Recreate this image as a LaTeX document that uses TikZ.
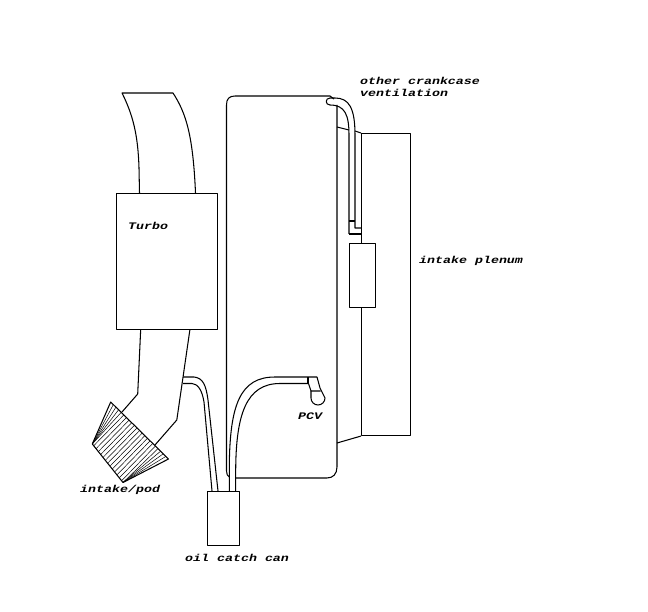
\documentclass[tikz,border=0pt]{standalone}
\usepackage{fontspec}
\newfontfamily\labelfont[FakeStretch=1.33]{Liberation Mono}
\usetikzlibrary{calc}
\tikzset{
  ln/.style={draw=black,line width=1.05pt},
  boxn/.style={ln,fill=white,rectangle,inner sep=0pt,anchor=north west},
  lbl/.style={anchor=west,inner sep=0pt,font=\labelfont\bfseries\itshape\fontsize{10}{11}\selectfont},
  pleat/.style={draw=black,line width=0.5pt}
}
\begin{document}
\begin{tikzpicture}[x=1pt,y=-1pt,line join=round]
\useasboundingbox[fill=white] (0,0) rectangle (648,612);
% intake duct above turbo
\draw[ln] (139.5,193) -- (139,168) .. controls (138,135) and (133,115) .. (122,93) -- (173,93)
  .. controls (186,113) and (193,135) .. (195.5,193);
% lower duct
\coordinate (fTop) at (110.7,402);
\coordinate (fLeft) at (92.3,444);
\coordinate (fBot) at (123,482.5);
\coordinate (fRight) at (168.5,459);
\draw[ln] (140.7,329) -- (137.7,394) -- (122,412);
\draw[ln] (190,329) -- (176.8,420) -- (155,445);
\draw[line width=1.6pt] (141,329.5) -- (165,329.5);
% filter pod
\draw[ln] (fTop) -- (fLeft) -- (fBot) -- (fRight) -- cycle;
\foreach \i in {1,...,21}{
  \pgfmathsetmacro{\t}{\i/22}
  \pgfmathsetmacro{\s}{min(1,max(0,(\t-0.2)/0.6))}
  \draw[pleat] ($(fTop)!\t!(fRight)$) -- ($(fLeft)!\s!(fBot)$);
}
% engine block
\draw[ln] (229.3,477) .. controls (227.5,476) and (226.5,474) .. (226.5,471) -- (226.5,105)
  .. controls (226.5,99) and (229,96) .. (235,96) -- (330,96) -- (334,99);
\draw[ln] (235.7,478) -- (327,478) .. controls (333,478) and (337,474) .. (337,467) -- (337,105);
% plenum and manifold
\node[boxn,minimum width=49pt,minimum height=302pt] (plenum) at (361,133) {};
\draw[ln] (337,127) -- (349,130);
\draw[ln] (355,131) -- (plenum.north west);
\draw[ln] (337,443) -- (plenum.south west);
% crankcase vent pipe
\draw[ln] (349,234) -- (349,135) .. controls (349,115) and (345,105) .. (330,105)
  .. controls (325,105) and (325,98) .. (330,98) -- (335,98)
  .. controls (349,98) and (355,108) .. (355,135) -- (355,228) -- (361,228);
\draw[ln] (349,221) -- (355,221);
\draw[ln] (349,234) -- (361,234);
% valve box
\node[boxn,minimum width=25.5pt,minimum height=64pt] (valve) at (349,243) {};
% turbo
\node[boxn,minimum width=101pt,minimum height=136pt] (turbo) at (116,193) {};
% catch can
\node[boxn,minimum width=32pt,minimum height=54pt] (can) at (207,491) {};
% hose turbo inlet to can
\draw[ln] (183,377) -- (194,377) .. controls (203,378) and (206,385) .. (208,400) -- (218,491);
\draw[ln] (183,383.5) -- (192,383.5) .. controls (198,384) and (202,390) .. (204,402) -- (212,491);
% hose PCV to can
\draw[ln] (229.3,491) -- (229.3,465) .. controls (230,405) and (240,377) .. (275,377) -- (317,377);
\draw[ln] (235.7,491) -- (235.7,470) .. controls (236,415) and (246,383.5) .. (280,383.5) -- (308,383.5);
\draw[ln] (308,377) -- (308,383.5);
% PCV valve
\draw[ln] (308.5,383.5) -- (311,391) -- (320.5,391);
\draw[ln] (317,377) -- (320,388) -- (325,398) arc[start angle=0,end angle=180,radius=7] -- (311,391);
% labels
\node[lbl] (lT) at (128,225.5) {Turbo};
\node[lbl] (lP) at (419,260.5) {intake plenum};
\node[lbl] (lI) at (80,489.5) {intake/pod};
\node[lbl] (lC) at (185,557.5) {oil catch can};
\node[lbl] (lV) at (298,416.5) {PCV};
\node[lbl] (lO) at (360,80.5) {other crankcase};
\node[lbl] (lW) at (360,92.5) {ventilation};
\end{tikzpicture}
\end{document}
